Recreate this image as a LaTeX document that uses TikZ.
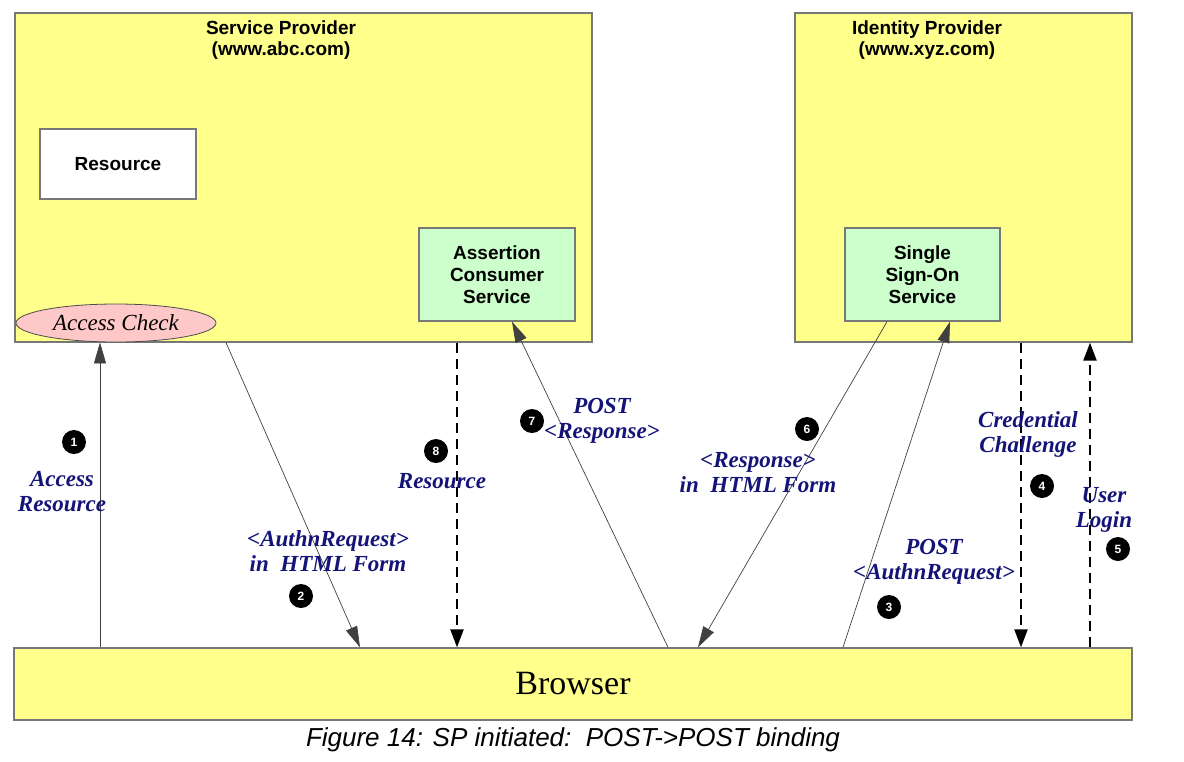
\documentclass[tikz,border=0pt]{standalone}
\usepackage{fontspec}
\setmainfont{Liberation Serif}
\setsansfont{Liberation Sans}
\usetikzlibrary{arrows.meta,shapes.geometric}

\definecolor{partyyellow}{RGB}{255,255,140}
\definecolor{servicegreen}{RGB}{204,255,204}
\definecolor{checkpink}{RGB}{255,200,200}
\definecolor{msgnavy}{RGB}{20,20,120}
\definecolor{edgegray}{RGB}{120,120,120}

\begin{document}
\begin{tikzpicture}[x=1pt, y=-1pt,
    party/.style={draw=edgegray, line width=1.3pt, fill=partyyellow, inner sep=0pt},
    service/.style={draw=edgegray, line width=1.3pt, fill=servicegreen, align=center, inner sep=0pt,
        font=\sffamily\bfseries\fontsize{19}{22}\selectfont},
    title/.style={align=center, anchor=north, font=\sffamily\bfseries\fontsize{19}{21}\selectfont},
    msg/.style={draw=black!75, line width=0.7pt, -{Triangle[length=21pt,width=12pt]}},
    dashmsg/.style={draw=black, line width=2.2pt, dash pattern=on 10pt off 6pt, -{Triangle[length=18pt,width=13pt]}},
    badge/.style={circle, fill=black, text=white, inner sep=0pt, minimum size=24pt,
        font=\sffamily\bfseries\fontsize{12}{12}\selectfont},
    lbl/.style={text=msgnavy, align=center, font=\bfseries\itshape\fontsize{23}{25}\selectfont}
]
    \useasboundingbox (0,0) rectangle (1184,761);

    % parties
    \node[party, minimum width=577pt, minimum height=329pt] (sp) at (303.5,177.5) {};
    \node[title] (sptitle) at (281,17) {Service Provider\\(www.abc.com)};
    \node[party, minimum width=337pt, minimum height=329pt] (idp) at (963.5,177.5) {};
    \node[title] (idptitle) at (927,17) {Identity Provider\\(www.xyz.com)};
    \node[party, minimum width=1118pt, minimum height=72pt,
          font=\fontsize{34}{34}\selectfont] (browser) at (573,684) {Browser};

    % services
    \node[draw=edgegray, line width=1.3pt, fill=white, inner sep=0pt, minimum width=156pt, minimum height=70pt,
          font=\sffamily\bfseries\fontsize{19}{22}\selectfont] (resource) at (118,164) {Resource};
    \node[service, minimum width=156pt, minimum height=93pt] (acs) at (497,274.5) {Assertion\\Consumer\\Service};
    \node[service, minimum width=155pt, minimum height=93pt] (sso) at (922.5,274.5) {Single\\Sign-On\\Service};
    \node[ellipse, draw=black!70, line width=0.8pt, fill=checkpink, minimum width=200pt, minimum height=38pt,
          inner sep=0pt, font=\itshape\fontsize{23}{23}\selectfont] (check) at (116,323) {Access Check};

    % messages
    \draw[msg] (browser.north -| 100,0) -- (check.south -| 100,0);
    \draw[msg] (sp.south -| 226,0) -- (browser.north -| 360,0);
    \draw[msg] (browser.north -| 843,0) -- (sso.south -| 950,0);
    \draw[dashmsg] (idp.south -| 1021,0) -- (browser.north -| 1021,0);
    \draw[dashmsg] (browser.north -| 1090,0) -- (idp.south -| 1090,0);
    \draw[msg] (sso.south -| 887,0) -- (browser.north -| 698,0);
    \draw[msg] (browser.north -| 668,0) -- (acs.south -| 512,0);
    \draw[dashmsg] (sp.south -| 457,0) -- (browser.north -| 457,0);

    % step numbers
    \node[badge] (b1) at (74,442) {1};
    \node[badge] (b2) at (301,596) {2};
    \node[badge] (b3) at (889,607) {3};
    \node[badge] (b4) at (1042,486) {4};
    \node[badge] (b5) at (1118,549) {5};
    \node[badge] (b6) at (807,429) {6};
    \node[badge] (b7) at (532,421) {7};
    \node[badge] (b8) at (436,451) {8};

    % message labels
    \node[lbl] (l1) at (62,492) {Access\\Resource};
    \node[lbl] (l2) at (328,551) {<AuthnRequest>\\in\ \ HTML Form};
    \node[lbl] (l3) at (934,562) {POST\\<AuthnRequest>};
    \node[lbl] (l4) at (1028,434) {Credential\\Challenge};
    \node[lbl] (l5) at (1104,510) {User\\Login};
    \node[lbl] (l6) at (758,473) {<Response>\\in\ \ HTML Form};
    \node[lbl] (l7) at (602,421) {POST\\<Response>};
    \node[lbl] (l8) at (442,481) {Resource};

    \node[font=\sffamily\itshape\fontsize{26}{26}\selectfont] (caption) at (573,740)
        {Figure 14: SP initiated:\ \ POST->POST binding};
\end{tikzpicture}
\end{document}
